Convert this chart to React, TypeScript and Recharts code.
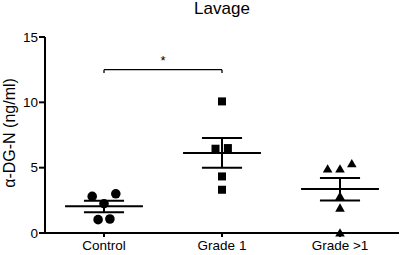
import React from 'react';
import { ComposedChart, Scatter, XAxis, YAxis, ReferenceLine, ReferenceDot, Label } from 'recharts';

const categories = ['Control', 'Grade 1', 'Grade >1'];
const categoryX = [0.5, 1.5, 2.5];
const yTicks = [0, 5, 10, 15];

const controlValues = [2.8, 3.0, 2.24, 1.02, 1.07];
const controlJitter = [-0.1, 0.1, 0, -0.05, 0.05];
const grade1Values = [10.07, 6.45, 6.5, 4.33, 3.31];
const grade1Jitter = [0, -0.055, 0.05, 0, 0];
const gradeGt1Values = [4.9, 4.9, 5.3, 2.8, 1.91, 0];
const gradeGt1Jitter = [-0.105, 0, 0.1, 0, 0, 0];

const means = [2.04, 6.12, 3.37];
const semUpper = [2.47, 7.27, 4.21];
const semLower = [1.58, 5.0, 2.49];

const bracketY = 12.5;
const bracketEndY = 12.24;
const starY = 13.2;

const toPoints = (vals: number[], jit: number[], gi: number) =>
  vals.map((v, i) => ({ x: categoryX[gi] + jit[i], y: v }));

const controlData = toPoints(controlValues, controlJitter, 0);
const grade1Data = toPoints(grade1Values, grade1Jitter, 1);
const gradeGt1Data = toPoints(gradeGt1Values, gradeGt1Jitter, 2);

const FONT = '"Liberation Sans", Arial, sans-serif';

const CircleShape = (p: any) => <circle cx={p.cx} cy={p.cy} r={4.8} fill="#000" />;
const SquareShape = (p: any) => <rect x={p.cx - 4} y={p.cy - 4} width={8} height={8} fill="#000" />;
const TriShape = (p: any) => (
  <polygon points={`${p.cx},${p.cy - 4.8} ${p.cx + 4.8},${p.cy + 3.6} ${p.cx - 4.8},${p.cy + 3.6}`} fill="#000" />
);

const MEAN_HALF = 0.33;
const CAP_HALF = 0.17;

export default function App() {
  const lines: React.ReactNode[] = [];
  categoryX.forEach((cx, i) => {
    lines.push(
      <ReferenceLine key={`m${i}`} segment={[{ x: cx - MEAN_HALF, y: means[i] }, { x: cx + MEAN_HALF, y: means[i] }]} stroke="#000" strokeWidth={2} ifOverflow="visible" />,
      <ReferenceLine key={`v${i}`} segment={[{ x: cx, y: semLower[i] }, { x: cx, y: semUpper[i] }]} stroke="#000" strokeWidth={2} ifOverflow="visible" />,
      <ReferenceLine key={`u${i}`} segment={[{ x: cx - CAP_HALF, y: semUpper[i] }, { x: cx + CAP_HALF, y: semUpper[i] }]} stroke="#000" strokeWidth={2} ifOverflow="visible" />,
      <ReferenceLine key={`l${i}`} segment={[{ x: cx - CAP_HALF, y: semLower[i] }, { x: cx + CAP_HALF, y: semLower[i] }]} stroke="#000" strokeWidth={2} ifOverflow="visible" />
    );
  });

  return (
    <div style={{ position: 'absolute', left: 0, top: 0, width: 400, height: 255, fontFamily: FONT }}>
      <div style={{ position: 'absolute', left: 45, width: 354, top: 0, textAlign: 'center', fontSize: 17, lineHeight: '17px', color: '#000' }}>
        Lavage
      </div>
      <ComposedChart width={400} height={255} margin={{ top: 37, right: 1, bottom: 0, left: 0 }}>
        <XAxis
          type="number"
          dataKey="x"
          domain={[0, 3]}
          ticks={categoryX}
          tickFormatter={(v: number) => categories[categoryX.indexOf(v)] ?? ''}
          height={22}
          axisLine={{ stroke: '#000', strokeWidth: 2 }}
          tickLine={{ stroke: '#000', strokeWidth: 2 }}
          tickSize={4}
          tickMargin={3}
          tick={{ fill: '#000', fontSize: 13.5, fontFamily: FONT }}
        />
        <YAxis
          type="number"
          dataKey="y"
          domain={[0, 15]}
          ticks={yTicks}
          width={45}
          axisLine={{ stroke: '#000', strokeWidth: 2 }}
          tickLine={{ stroke: '#000', strokeWidth: 2 }}
          tickSize={6}
          tickMargin={1}
          tick={{ fill: '#000', fontSize: 13.5, fontFamily: FONT }}
        >
          <Label
            content={() => (
              <text x={15} y={133} transform="rotate(-90 15 133)" textAnchor="middle" fontSize={16} fontFamily={FONT} fill="#000">
                α-DG-N (ng/ml)
              </text>
            )}
          />
        </YAxis>
        {lines}
        <ReferenceLine segment={[{ x: categoryX[0], y: bracketY }, { x: categoryX[1], y: bracketY }]} stroke="#000" strokeWidth={1.3} ifOverflow="visible" />
        <ReferenceLine segment={[{ x: categoryX[0], y: bracketEndY }, { x: categoryX[0], y: bracketY }]} stroke="#000" strokeWidth={1.3} ifOverflow="visible" />
        <ReferenceLine segment={[{ x: categoryX[1], y: bracketEndY }, { x: categoryX[1], y: bracketY }]} stroke="#000" strokeWidth={1.3} ifOverflow="visible" />
        <ReferenceDot x={(categoryX[0] + categoryX[1]) / 2} y={starY} r={0} stroke="none" fill="none" ifOverflow="visible">
          <Label value="*" position="center" fontSize={13} fontFamily={FONT} fill="#000" />
        </ReferenceDot>
        <Scatter data={controlData} shape={CircleShape} isAnimationActive={false} />
        <Scatter data={grade1Data} shape={SquareShape} isAnimationActive={false} />
        <Scatter data={gradeGt1Data} shape={TriShape} isAnimationActive={false} />
      </ComposedChart>
    </div>
  );
}
